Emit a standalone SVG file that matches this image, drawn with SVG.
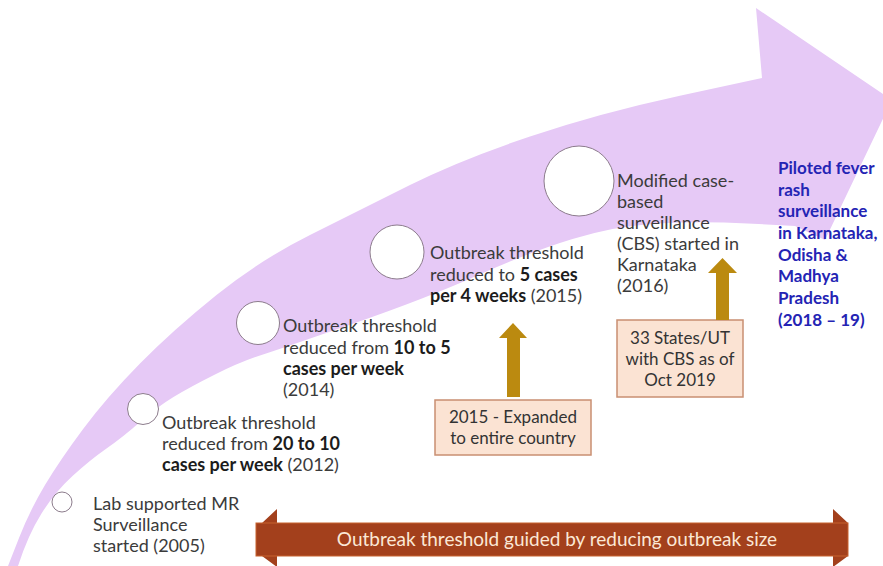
<svg xmlns="http://www.w3.org/2000/svg" width="883" height="566" viewBox="0 0 883 566">
<style>
  .t { font-family: Lato, "Open Sans", "Liberation Sans", sans-serif; font-size: 18px; fill: #3b3b3b; }
  .b { font-weight: bold; fill: #1c1c1c; }
  .blue { font-family: Lato, "Open Sans", "Liberation Sans", sans-serif; font-size: 17px; font-weight: bold; fill: #2424b4; }
  .dot { fill: #ffffff; stroke: #8c7c8c; stroke-width: 1; }
  .box { fill: #fbe3d3; stroke: #c98f72; stroke-width: 1.5; }
  .boxt { font-family: Lato, "Open Sans", "Liberation Sans", sans-serif; font-size: 17px; fill: #333333; text-anchor: middle; }
  .gold { fill: #bb8a10; }
  .bar { fill: #a3401c; }
</style>
<rect width="883" height="566" fill="#ffffff"/>
<g id="timeline-arrow">
  <path fill="#e6c9f6" d="M8,566 L19,538 Q30,510 45,485 Q60,460 83.5,428.5 Q107,397 140,363.5 Q173,330 216.5,295 Q260,260 310,235 Q360,210 410,185 Q460,160 530,136.5 Q600,113 681,95.5 L762,78 L756,8 L892,100 L825,240 L795,226 L747.5,223.5 Q700,221 657.5,223.5 Q615,226 572.5,239 Q530,252 478.5,275 Q427,298 355,323 Q283,348 261.5,355 Q240,362 215,374.5 Q190,387 173.5,397 Q157,407 140,422 Q123,437 106.5,448.5 Q90,460 72.5,476 Q55,492 41.5,513.5 Q28,535 18,566 Z"/>
</g>
<g id="n2005">
  <circle class="dot" cx="62" cy="502" r="10"/>
  <text class="t" x="93" y="510">Lab supported MR</text>
  <text class="t" x="93" y="531">Surveillance</text>
  <text class="t" x="93" y="552">started (2005)</text>
</g>
<g id="n2012">
  <circle class="dot" cx="143" cy="409" r="15.5"/>
  <text class="t" x="162" y="429">Outbreak threshold</text>
  <text class="t" x="162" y="450">reduced from <tspan class="b">20 to 10</tspan></text>
  <text class="t" x="162" y="471"><tspan class="b">cases per week</tspan> (2012)</text>
</g>
<g id="n2014">
  <circle class="dot" cx="258" cy="323" r="21.5"/>
  <text class="t" x="283" y="332">Outbreak threshold</text>
  <text class="t" x="283" y="353.5">reduced from <tspan class="b">10 to 5</tspan></text>
  <text class="t" x="283" y="375"><tspan class="b">cases per week</tspan></text>
  <text class="t" x="283" y="396">(2014)</text>
</g>
<g id="n2015">
  <circle class="dot" cx="397" cy="252" r="27"/>
  <text class="t" x="430" y="259">Outbreak threshold</text>
  <text class="t" x="430" y="280.5">reduced to <tspan class="b">5 cases</tspan></text>
  <text class="t" x="430" y="302"><tspan class="b">per 4 weeks</tspan> (2015)</text>
</g>
<g id="n2016">
  <circle class="dot" cx="579" cy="181" r="35"/>
  <text class="t" x="617" y="187">Modified case-</text>
  <text class="t" x="617" y="208">based</text>
  <text class="t" x="617" y="229">surveillance</text>
  <text class="t" x="617" y="250">(CBS) started in</text>
  <text class="t" x="617" y="271">Karnataka</text>
  <text class="t" x="617" y="292">(2016)</text>
</g>
<g id="n2018">
  <text class="blue" x="778" y="174">Piloted fever</text>
  <text class="blue" x="778" y="196">rash</text>
  <text class="blue" x="778" y="217">surveillance</text>
  <text class="blue" x="778" y="239">in Karnataka,</text>
  <text class="blue" x="778" y="261">Odisha &amp;</text>
  <text class="blue" x="778" y="282">Madhya</text>
  <text class="blue" x="778" y="304">Pradesh</text>
  <text class="blue" x="778" y="326">(2018 – 19)</text>
</g>
<g id="box-2015">
  <rect class="box" x="435" y="400" width="156" height="55"/>
  <text class="boxt" x="513" y="423">2015 - Expanded</text>
  <text class="boxt" x="513" y="444">to entire country</text>
</g>
<g id="box-2019">
  <rect class="box" x="617" y="320" width="126" height="77"/>
  <text class="boxt" x="680" y="344">33 States/UT</text>
  <text class="boxt" x="680" y="365">with CBS as of</text>
  <text class="boxt" x="680" y="386">Oct 2019</text>
</g>
<g id="connectors">
  <path class="gold" d="M507,397 L507,338 L499,338 L513,323 L527,338 L520,338 L520,397 Z"/>
  <path class="gold" d="M716,320 L716,273 L708,273 L722.5,258 L737,273 L729,273 L729,320 Z"/>
</g>
<g id="bottom-bar">
  <path class="bar" d="M262,523 L277,509 L277,523 Z M262,556 L277,567 L277,556 Z M833,509 L848,523 L833,523 Z M833,556 L848,556 L833,567 Z"/>
  <rect x="256" y="523" width="592" height="33" fill="#a3401c" stroke="#c8622e" stroke-width="1"/>
  <text x="557" y="546" text-anchor="middle" font-family="Lato, 'Open Sans', 'Liberation Sans', sans-serif" font-size="19" fill="#fbe8d6">Outbreak threshold guided by reducing outbreak size</text>
</g>
</svg>
